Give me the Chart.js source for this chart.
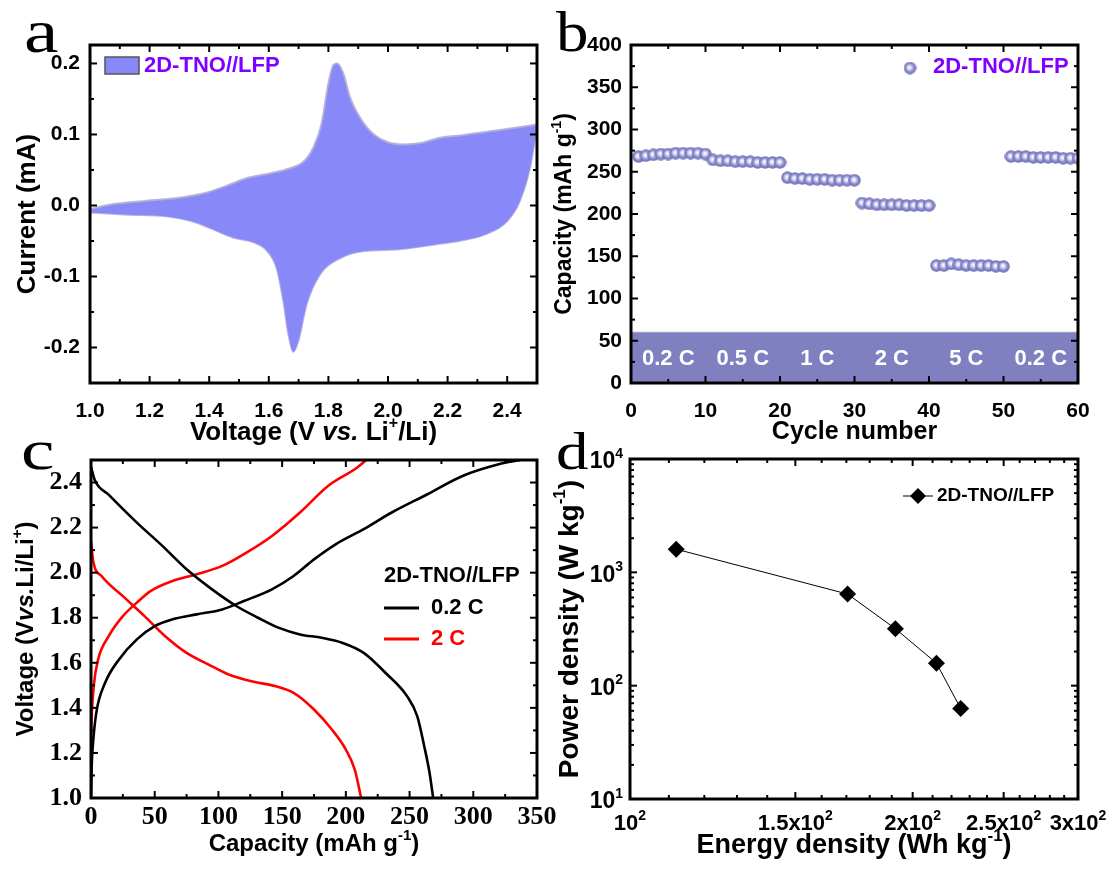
<!DOCTYPE html>
<html>
<head>
<meta charset="utf-8">
<title>2D-TNO//LFP full cell</title>
<script src="https://cdn.jsdelivr.net/npm/chart.js@4.4.1/dist/chart.umd.min.js"></script>
<style>
  body { margin: 0; background: #fff; }
  #wrap { position: relative; width: 1116px; height: 875px; overflow: hidden; background: #fff; }
  #wrap canvas { position: absolute; left: 0; top: 0; }
  .tag { position: absolute; font-family: 'Liberation Serif', 'Times New Roman', serif; line-height: 1; color: #000; transform-origin: left top; }
</style>
</head>
<body>
<div id="wrap">
  <canvas id="cvA" width="1116" height="875"></canvas>
  <canvas id="cvB" width="1116" height="875"></canvas>
  <canvas id="cvC" width="1116" height="875"></canvas>
  <canvas id="cvD" width="1116" height="875"></canvas>
  <div class="tag" style="left:24px;top:0px;font-size:62px;transform:scaleX(1.25)">a</div>
  <div class="tag" style="left:556px;top:3px;font-size:58px;transform:scaleX(1.12)">b</div>
  <div class="tag" style="left:21px;top:421px;font-size:58px;transform:scaleX(1.3)">c</div>
  <div class="tag" style="left:556px;top:426px;font-size:52px;transform:scaleX(1.25)">d</div>
</div>
<script>
// ---- data ----

// a: cyclic voltammetry, anodic (upper) and cathodic (lower) branch
const cvUpperV = [1.0, 1.08, 1.19, 1.30, 1.39, 1.46, 1.53, 1.59, 1.66, 1.72, 1.75, 1.777, 1.80, 1.817, 1.83, 1.85, 1.872, 1.906, 1.95, 2.0, 2.05, 2.11, 2.17, 2.25, 2.37, 2.5];
const cvUpperI = [-0.005, 0.002, 0.0066, 0.011, 0.018, 0.028, 0.039, 0.044, 0.051, 0.063, 0.082, 0.115, 0.172, 0.198, 0.200, 0.186, 0.153, 0.124, 0.101, 0.089, 0.086, 0.088, 0.095, 0.099, 0.106, 0.114];
const cvLowerV = [1.0, 1.13, 1.25, 1.34, 1.41, 1.48, 1.55, 1.59, 1.626, 1.649, 1.666, 1.682, 1.699, 1.727, 1.772, 1.84, 1.92, 2.03, 2.14, 2.25, 2.33, 2.40, 2.443, 2.477, 2.5];
const cvLowerI = [-0.010, -0.013, -0.015, -0.022, -0.033, -0.045, -0.052, -0.062, -0.088, -0.135, -0.182, -0.206, -0.191, -0.139, -0.097, -0.074, -0.064, -0.062, -0.056, -0.049, -0.040, -0.022, 0.007, 0.054, 0.110];
const voltTicks = [1.0, 1.2, 1.4, 1.6, 1.8, 2.0, 2.2, 2.4];
const currentTicks = [-0.2, -0.1, 0.0, 0.1, 0.2];

// b: rate capability, cycles 1..60
const rateCapacity = [
  268, 269, 270, 271, 271, 272, 272, 272, 272, 271,
  264, 263, 263, 262, 262, 262, 261, 261, 261, 261,
  243, 242, 242, 241, 241, 241, 240, 240, 240, 240,
  213, 212, 211, 211, 211, 211, 210, 210, 210, 210,
  139, 139, 141, 140, 139, 139, 139, 139, 138, 138,
  268, 268, 268, 267, 267, 267, 267, 266, 266, 266
];
const rateNames = ['0.2 C', '0.5 C', '1 C', '2 C', '5 C', '0.2 C'];
const rateCenters = [5, 15, 25, 35, 45, 55];
const rateBandTop = 60;
const cycleTicks = [0, 10, 20, 30, 40, 50, 60];
const capTicks = [0, 50, 100, 150, 200, 250, 300, 350, 400];

// c: charge / discharge profiles
const c02ChargeX = [0, 0.6, 1.4, 4.2, 11, 22, 36, 50, 64, 83, 103, 120, 142, 159, 175, 192, 214, 236, 264, 292, 320, 337];
const c02ChargeY = [1.0, 1.15, 1.23, 1.38, 1.51, 1.615, 1.704, 1.763, 1.793, 1.815, 1.837, 1.874, 1.926, 1.985, 2.059, 2.126, 2.193, 2.267, 2.348, 2.43, 2.481, 2.5];
const c02DisX = [0, 3, 14, 36, 56, 75, 95, 114, 131, 147, 164, 181, 197, 214, 231, 248, 256, 261.5, 265.7, 268.5];
const c02DisY = [2.47, 2.41, 2.345, 2.222, 2.119, 2.015, 1.926, 1.852, 1.8, 1.756, 1.726, 1.711, 1.689, 1.644, 1.556, 1.452, 1.363, 1.23, 1.111, 1.0];
const c2ChargeX = [0, 0.5, 2.2, 5.6, 14, 25, 36, 47, 64, 83, 103, 122, 142, 164, 186, 209, 216];
const c2ChargeY = [1.27, 1.36, 1.50, 1.615, 1.719, 1.807, 1.867, 1.919, 1.963, 1.993, 2.03, 2.089, 2.163, 2.267, 2.385, 2.467, 2.5];
const c2DisX = [0, 1.7, 8.3, 25, 42, 58, 75, 92, 108, 125, 145, 159, 175, 189, 200, 207, 212];
const c2DisY = [2.14, 2.052, 1.985, 1.896, 1.807, 1.719, 1.644, 1.593, 1.548, 1.519, 1.496, 1.467, 1.393, 1.304, 1.215, 1.126, 1.0];
const capacityTicks = [0, 50, 100, 150, 200, 250, 300, 350];
const voltageTicks = [1.0, 1.2, 1.4, 1.6, 1.8, 2.0, 2.2, 2.4];

// d: Ragone plot
const energyDensity = [112, 170.5, 191.7, 212, 225];
const powerDensity = [1600, 643, 318, 158, 63];
const energyTicks = [100, 150, 200, 250, 300];
const energyLabels = [['10', '2'], ['1.5x10', '2'], ['2x10', '2'], ['2.5x10', '2'], ['3x10', '2']];
const energyMinor = [110, 120, 130, 140, 160, 170, 180, 190, 210, 220, 230, 240, 260, 270, 280, 290];
const powerTicks = [10, 100, 1000, 10000];
const powerLabels = [['10', '1'], ['10', '2'], ['10', '3'], ['10', '4']];
const powerMinor = [20, 30, 40, 50, 60, 70, 80, 90, 200, 300, 400, 500, 600, 700, 800, 900, 2000, 3000, 4000, 5000, 6000, 7000, 8000, 9000];

// ---- helpers ----
const SANS = "'Liberation Sans', Arial, sans-serif";
const SERIF = "'Liberation Serif', 'Times New Roman', serif";
const PURPLE = '#8000ff';

const zip = (xs, ys) => xs.map((x, i) => ({ x: x, y: ys[i] }));
const between = (lo, hi, step) => {
  // minor tick positions only, not data
  const out = [];
  for (let v = lo; v <= hi + 1e-9; v += step) out.push(+v.toFixed(4));
  return out;
};

const makeScale = (o) => ({
  type: o.type || 'linear',
  min: o.min,
  max: o.max,
  grid: { display: false, drawTicks: false, tickLength: 0 },
  border: { display: false },
  afterBuildTicks: (s) => { s.ticks = o.ticks.map(v => ({ value: v })); },
  afterFit: (s) => { if (o.isX) s.height = o.size; else s.width = o.size; },
  ticks: {
    display: !o.hideLabels,
    autoSkip: false, maxRotation: 0, minRotation: 0,
    padding: o.pad || 0, color: '#000', font: o.font,
    callback: (v, i) => o.labels ? o.labels[i] : ''
  },
  title: { display: false }
});

// frame box plus inward ticks on all four sides
const frameTicks = {
  id: 'frameTicks',
  afterDraw(chart, args, opts) {
    const { ctx, chartArea: { left, right, top, bottom } } = chart;
    const sx = chart.scales.x, sy = chart.scales.y;
    const seg = (x1, y1, x2, y2) => { ctx.beginPath(); ctx.moveTo(x1, y1); ctx.lineTo(x2, y2); ctx.stroke(); };
    ctx.save();
    ctx.strokeStyle = '#000';
    ctx.lineWidth = opts.tickWidth;
    const xt = (vals, len) => vals.forEach(v => { const p = sx.getPixelForValue(v); seg(p, bottom, p, bottom - len); seg(p, top, p, top + len); });
    const yt = (vals, len) => vals.forEach(v => { const p = sy.getPixelForValue(v); seg(left, p, left + len, p); seg(right, p, right - len, p); });
    xt(opts.xMajor, opts.len); xt(opts.xMinor, opts.minorLen);
    yt(opts.yMajor, opts.len); yt(opts.yMinor, opts.minorLen);
    ctx.lineWidth = opts.width;
    ctx.strokeRect(left, top, right - left, bottom - top);
    ctx.restore();
  }
};

// text made of normal / italic / superscript pieces
const drawParts = (ctx, parts, x0, cy, size, family, align) => {
  const fontOf = (st) => (st === 'i' ? 'italic ' : '') + 'bold ' + (st === 's' ? Math.round(size * 0.62) : size) + 'px ' + family;
  let total = 0;
  parts.forEach(p => { ctx.font = fontOf(p[1]); total += ctx.measureText(p[0]).width; });
  let x = align === 'right' ? x0 - total : x0 - total / 2;
  ctx.textAlign = 'left';
  ctx.textBaseline = 'middle';
  parts.forEach(p => {
    ctx.font = fontOf(p[1]);
    ctx.fillText(p[0], x, p[1] === 's' ? cy - size * 0.36 : cy);
    x += ctx.measureText(p[0]).width;
  });
};
const axisTitles = {
  id: 'axisTitles',
  afterDraw(chart, args, opts) {
    const { ctx, chartArea: { left, right, top, bottom } } = chart;
    ctx.save();
    ctx.fillStyle = '#000';
    drawParts(ctx, opts.x, (left + right) / 2, bottom + opts.xGap, opts.xSize, opts.family);
    ctx.translate(left - opts.yGap, (top + bottom) / 2);
    ctx.rotate(-Math.PI / 2);
    drawParts(ctx, opts.y, 0, 0, opts.ySize, opts.family);
    ctx.restore();
  }
};

const baseOptions = (frame, xW, yW) => ({
  responsive: false,
  animation: false,
  events: [],
  devicePixelRatio: 1,
  layout: { padding: { left: frame[0] - yW, top: frame[1], right: 1116 - frame[2], bottom: 875 - frame[3] - xW } }
});
const hidden = { legend: { display: false }, tooltip: { enabled: false } };

// ---- a: CV ----
const cvFill = '#8888f8';
const chartA = new Chart(document.getElementById('cvA'), {
  type: 'line',
  data: {
    datasets: [
      { data: zip(cvUpperV, cvUpperI), borderColor: 'rgba(175,175,215,0.9)', borderWidth: 2, backgroundColor: cvFill, fill: '+1', pointRadius: 0, cubicInterpolationMode: 'monotone' },
      { data: zip(cvLowerV, cvLowerI), borderColor: 'rgba(175,175,215,0.9)', borderWidth: 2, fill: false, pointRadius: 0, cubicInterpolationMode: 'monotone' }
    ]
  },
  options: Object.assign(baseOptions([90, 45, 537, 383], 65, 85), {
    scales: {
      x: makeScale({ isX: true, min: 1.0, max: 2.5, ticks: voltTicks, labels: voltTicks.map(v => v.toFixed(1)), size: 65, pad: 16,
        font: { family: SANS, size: 21, weight: 'bold' } }),
      y: makeScale({ min: -0.25, max: 0.226, ticks: currentTicks, labels: currentTicks.map(v => v.toFixed(1)), size: 85, pad: 10,
        font: { family: SANS, size: 21, weight: 'bold' } })
    },
    plugins: Object.assign({}, hidden, {
      frameTicks: { xMajor: voltTicks, xMinor: between(1.1, 2.5, 0.2), yMajor: currentTicks, yMinor: [-0.25, -0.15, -0.05, 0.05, 0.15], len: 7, minorLen: 4, width: 3, tickWidth: 2 },
      axisTitles: { family: SANS, xSize: 26, ySize: 26, xGap: 50, yGap: 62,
        x: [['Voltage (V ', ''], ['vs.', 'i'], [' Li', ''], ['+', 's'], ['/Li)', '']],
        y: [['Current (mA)', '']] }
    })
  }),
  plugins: [frameTicks, axisTitles, {
    id: 'legendA',
    afterDraw(chart) {
      const { ctx, chartArea } = chart;
      const x = chartArea.left + 15, y = chartArea.top + 12;
      ctx.save();
      ctx.fillStyle = cvFill;
      ctx.strokeStyle = '#555';
      ctx.lineWidth = 1.5;
      ctx.fillRect(x, y, 34, 17);
      ctx.strokeRect(x, y, 34, 17);
      ctx.fillStyle = PURPLE;
      ctx.font = "bold 22px " + SANS;
      ctx.textBaseline = 'middle';
      ctx.fillText('2D-TNO//LFP', x + 39, y + 9);
      ctx.restore();
    }
  }]
});

// ---- b: rate capability ----
const ball = document.createElement('canvas');
ball.width = 13; ball.height = 13;
const bc = ball.getContext('2d');
const grad = bc.createRadialGradient(5.8, 5.8, 0.3, 6.5, 6.5, 6.5);
grad.addColorStop(0, '#ffffff');
grad.addColorStop(0.28, '#d8d8f2');
grad.addColorStop(0.6, '#8c8cd2');
grad.addColorStop(1, '#6868ae');
bc.fillStyle = grad;
bc.beginPath();
bc.arc(6.5, 6.5, 6.2, 0, Math.PI * 2);
bc.fill();

const bandColor = '#8080c0';
const chartB = new Chart(document.getElementById('cvB'), {
  type: 'line',
  data: {
    datasets: [
      { data: rateCapacity.map((c, i) => ({ x: i + 1, y: c })), showLine: false, pointStyle: ball, pointRadius: 6.5, clip: 0 },
      { data: [{ x: cycleTicks[0], y: rateBandTop }, { x: cycleTicks[cycleTicks.length - 1], y: rateBandTop }], borderWidth: 1, borderColor: '#9c9cd4', backgroundColor: bandColor, fill: 'origin', pointRadius: 0 }
    ]
  },
  options: Object.assign(baseOptions([631, 45, 1078, 383], 65, 86), {
    scales: {
      x: makeScale({ isX: true, min: 0, max: 60, ticks: cycleTicks, labels: cycleTicks.map(String), size: 65, pad: 16,
        font: { family: SANS, size: 21, weight: 'bold' } }),
      y: makeScale({ min: 0, max: 400, ticks: capTicks, labels: capTicks.map(String), size: 86, pad: 9,
        font: { family: SANS, size: 21, weight: 'bold' } })
    },
    plugins: Object.assign({}, hidden, {
      frameTicks: { xMajor: cycleTicks, xMinor: between(5, 55, 10), yMajor: capTicks, yMinor: between(25, 375, 50), len: 7, minorLen: 4, width: 3, tickWidth: 2 },
      axisTitles: { family: SANS, xSize: 25, ySize: 23, xGap: 49, yGap: 66,
        x: [['Cycle number', '']],
        y: [['Capacity (mAh g', ''], ['-1', 's'], [')', '']] }
    })
  }),
  plugins: [frameTicks, axisTitles, {
    id: 'rateLabels',
    afterDatasetsDraw(chart) {
      const { ctx, scales: { x, y } } = chart;
      ctx.save();
      ctx.fillStyle = '#fff';
      ctx.font = "bold 22px " + SANS;
      ctx.textAlign = 'center';
      ctx.textBaseline = 'middle';
      rateNames.forEach((n, i) => ctx.fillText(n, x.getPixelForValue(rateCenters[i]), y.getPixelForValue(29)));
      ctx.restore();
    },
    afterDraw(chart) {
      const { ctx, chartArea } = chart;
      const x = chartArea.right - 168, y = chartArea.top + 23;
      ctx.save();
      ctx.drawImage(ball, x - 6.5, y - 6.5);
      ctx.fillStyle = PURPLE;
      ctx.font = "bold 22px " + SANS;
      ctx.textBaseline = 'middle';
      ctx.fillText('2D-TNO//LFP', x + 23, y - 1);
      ctx.restore();
    }
  }]
});

// ---- c: galvanostatic profiles ----
const lineSet = (xs, ys, color) => ({ data: zip(xs, ys), borderColor: color, borderWidth: 2.6, pointRadius: 0, fill: false, cubicInterpolationMode: 'monotone' });
const chartC = new Chart(document.getElementById('cvC'), {
  type: 'line',
  data: {
    datasets: [
      lineSet(c02ChargeX, c02ChargeY, '#000'),
      lineSet(c02DisX, c02DisY, '#000'),
      lineSet(c2ChargeX, c2ChargeY, '#ff0000'),
      lineSet(c2DisX, c2DisY, '#ff0000')
    ]
  },
  options: Object.assign(baseOptions([91, 460, 537, 798], 65, 85), {
    scales: {
      x: makeScale({ isX: true, min: 0, max: 350, ticks: capacityTicks, labels: capacityTicks.map(String), size: 65, pad: 4,
        font: { family: SERIF, size: 26, weight: 'bold' } }),
      y: makeScale({ min: 1.0, max: 2.5, ticks: voltageTicks, labels: voltageTicks.map(v => v.toFixed(1)), size: 85, pad: 9,
        font: { family: SERIF, size: 26, weight: 'bold' } })
    },
    plugins: Object.assign({}, hidden, {
      frameTicks: { xMajor: capacityTicks, xMinor: between(25, 325, 50), yMajor: voltageTicks, yMinor: between(1.1, 2.5, 0.2), len: 7, minorLen: 4, width: 3, tickWidth: 2 },
      axisTitles: { family: SANS, xSize: 24, ySize: 24, xGap: 46, yGap: 65,
        x: [['Capacity (mAh g', ''], ['-1', 's'], [')', '']],
        y: [['Voltage (V', ''], ['vs.', 'i'], ['Li/Li', ''], ['+', 's'], [')', '']] }
    })
  }),
  plugins: [frameTicks, axisTitles, {
    id: 'legendC',
    afterDraw(chart) {
      const { ctx, chartArea } = chart;
      const x = chartArea.left + 293, y = chartArea.top + 116;
      ctx.save();
      ctx.font = "bold 22px " + SANS;
      ctx.textBaseline = 'middle';
      ctx.fillStyle = '#000';
      ctx.fillText('2D-TNO//LFP', x, y);
      ctx.lineWidth = 3;
      [['0.2 C', '#000'], ['2 C', '#ff0000']].forEach((row, i) => {
        const ly = y + 32 + i * 31;
        ctx.strokeStyle = row[1];
        ctx.beginPath(); ctx.moveTo(x, ly); ctx.lineTo(x + 35, ly); ctx.stroke();
        ctx.fillStyle = row[1];
        ctx.fillText(row[0], x + 47, ly);
      });
      ctx.restore();
    }
  }]
});

// ---- d: Ragone plot ----
const chartD = new Chart(document.getElementById('cvD'), {
  type: 'line',
  data: {
    datasets: [{
      data: zip(energyDensity, powerDensity), borderColor: '#000', borderWidth: 1, backgroundColor: '#000',
      pointStyle: 'rectRot', pointRadius: 8.5, pointBorderWidth: 0, fill: false, tension: 0
    }]
  },
  options: Object.assign(baseOptions([630, 459, 1078, 799], 70, 90), {
    scales: {
      x: makeScale({ isX: true, type: 'logarithmic', min: 100, max: 300, ticks: energyTicks, hideLabels: true, size: 70 }),
      y: makeScale({ type: 'logarithmic', min: 10, max: 10000, ticks: powerTicks, hideLabels: true, size: 90 })
    },
    plugins: Object.assign({}, hidden, {
      frameTicks: { xMajor: energyTicks, xMinor: energyMinor, yMajor: powerTicks, yMinor: powerMinor, len: 7, minorLen: 4, width: 3, tickWidth: 2 },
      axisTitles: { family: SANS, xSize: 27, ySize: 28, xGap: 47, yGap: 60,
        x: [['Energy density (Wh kg', ''], ['-1', 's'], [')', '']],
        y: [['Power density (W kg', ''], ['-1', 's'], [')', '']] }
    })
  }),
  plugins: [frameTicks, axisTitles, {
    id: 'tickLabelsD',
    afterDraw(chart) {
      // log tick labels with real superscripts, placed by the chart's scales
      const { ctx, chartArea, scales: { x, y } } = chart;
      ctx.save();
      ctx.fillStyle = '#000';
      energyTicks.forEach((v, i) => drawParts(ctx, [[energyLabels[i][0], ''], [energyLabels[i][1], 's']], x.getPixelForValue(v), chartArea.bottom + 25, 22, SANS));
      powerTicks.forEach((v, i) => drawParts(ctx, [[powerLabels[i][0], ''], [powerLabels[i][1], 's']], chartArea.left - 7, y.getPixelForValue(v) + 3, 23, SANS, 'right'));
      ctx.restore();
    },
  }, {
    id: 'legendD',
    afterDraw(chart) {
      const { ctx, chartArea } = chart;
      const x = chartArea.left + 273, y = chartArea.top + 37;
      ctx.save();
      ctx.strokeStyle = '#000';
      ctx.fillStyle = '#000';
      ctx.lineWidth = 1;
      ctx.beginPath(); ctx.moveTo(x, y); ctx.lineTo(x + 30, y); ctx.stroke();
      ctx.beginPath();
      ctx.moveTo(x + 15, y - 8); ctx.lineTo(x + 23, y); ctx.lineTo(x + 15, y + 8); ctx.lineTo(x + 7, y);
      ctx.closePath(); ctx.fill();
      ctx.font = "bold 19px " + SANS;
      ctx.textBaseline = 'middle';
      ctx.fillText('2D-TNO//LFP', x + 34, y);
      ctx.restore();
    }
  }]
});
</script>
</body>
</html>
